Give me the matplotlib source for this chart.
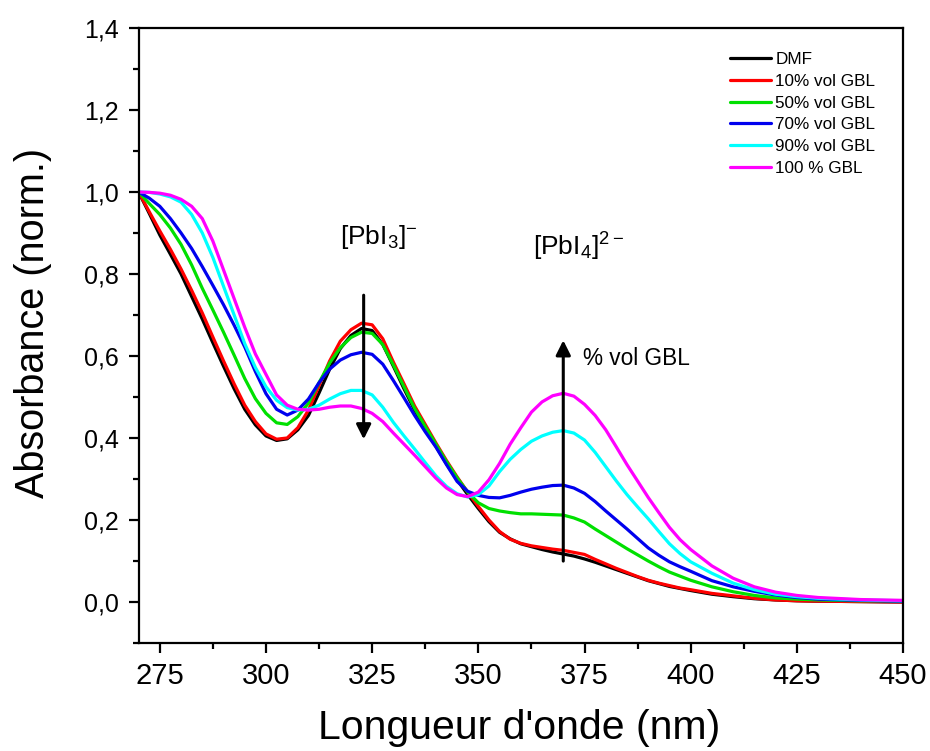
import matplotlib
matplotlib.use("Agg")
import matplotlib.pyplot as plt
from matplotlib.ticker import MultipleLocator, FuncFormatter

plt.rcParams['font.family'] = ['Liberation Sans', 'DejaVu Sans']
plt.rcParams['mathtext.fontset'] = 'custom'
plt.rcParams['mathtext.rm'] = 'Liberation Sans'
plt.rcParams['mathtext.it'] = 'Liberation Sans'

wavelength = [270, 272.5, 275, 277.5, 280, 282.5, 285, 287.5, 290, 292.5, 295, 297.5,
              300, 302.5, 305, 307.5, 310, 312.5, 315, 317.5, 320, 322.5, 325, 327.5,
              330, 332.5, 335, 337.5, 340, 342.5, 345, 347.5, 350, 352.5, 355, 357.5,
              360, 362.5, 365, 367.5, 370, 372.5, 375, 377.5, 380, 382.5, 385, 387.5,
              390, 392.5, 395, 397.5, 400, 405, 410, 415, 420, 425, 430, 440, 450]

dmf = [1.000, 0.948, 0.895, 0.848, 0.800, 0.745, 0.690, 0.632, 0.575, 0.520, 0.470, 0.432,
       0.405, 0.394, 0.398, 0.420, 0.455, 0.510, 0.568, 0.618, 0.650, 0.667, 0.662, 0.628,
       0.575, 0.520, 0.468, 0.422, 0.380, 0.337, 0.298, 0.262, 0.228, 0.196, 0.170, 0.154,
       0.142, 0.135, 0.128, 0.122, 0.117, 0.112, 0.105, 0.097, 0.088, 0.079, 0.070, 0.061,
       0.052, 0.045, 0.038, 0.033, 0.028, 0.019, 0.013, 0.008, 0.005, 0.003, 0.002, 0.001, 0.000]

gbl10 = [1.000, 0.952, 0.905, 0.860, 0.812, 0.760, 0.705, 0.646, 0.588, 0.532, 0.480, 0.440,
         0.410, 0.397, 0.400, 0.425, 0.468, 0.528, 0.588, 0.636, 0.664, 0.680, 0.676, 0.642,
         0.585, 0.532, 0.478, 0.433, 0.388, 0.345, 0.305, 0.268, 0.233, 0.200, 0.172, 0.153,
         0.143, 0.137, 0.133, 0.129, 0.126, 0.121, 0.116, 0.104, 0.093, 0.082, 0.072, 0.062,
         0.053, 0.046, 0.040, 0.034, 0.030, 0.021, 0.015, 0.009, 0.005, 0.003, 0.002, 0.001, 0.000]

gbl50 = [1.000, 0.972, 0.945, 0.912, 0.872, 0.822, 0.765, 0.712, 0.658, 0.602, 0.545, 0.496,
         0.460, 0.437, 0.433, 0.452, 0.485, 0.535, 0.583, 0.620, 0.645, 0.658, 0.655, 0.628,
         0.578, 0.525, 0.472, 0.428, 0.385, 0.342, 0.303, 0.268, 0.242, 0.228, 0.222, 0.218,
         0.215, 0.215, 0.214, 0.213, 0.212, 0.205, 0.195, 0.178, 0.162, 0.146, 0.130, 0.115,
         0.100, 0.086, 0.073, 0.063, 0.053, 0.037, 0.025, 0.016, 0.010, 0.007, 0.005, 0.003, 0.002]

gbl70 = [1.000, 0.985, 0.965, 0.935, 0.900, 0.862, 0.818, 0.772, 0.725, 0.675, 0.622, 0.562,
         0.508, 0.470, 0.456, 0.468, 0.495, 0.535, 0.568, 0.590, 0.603, 0.609, 0.604, 0.580,
         0.540, 0.498, 0.455, 0.415, 0.378, 0.335, 0.294, 0.270, 0.260, 0.255, 0.254, 0.260,
         0.268, 0.275, 0.280, 0.284, 0.285, 0.278, 0.265, 0.245, 0.222, 0.200, 0.178, 0.155,
         0.132, 0.114, 0.098, 0.086, 0.075, 0.052, 0.037, 0.026, 0.017, 0.011, 0.007, 0.004, 0.002]

gbl90 = [1.000, 0.999, 0.995, 0.988, 0.975, 0.945, 0.900, 0.840, 0.770, 0.700, 0.630, 0.572,
         0.525, 0.492, 0.474, 0.468, 0.470, 0.480, 0.495, 0.508, 0.516, 0.516, 0.505, 0.475,
         0.438, 0.405, 0.373, 0.340, 0.308, 0.282, 0.264, 0.256, 0.262, 0.283, 0.318, 0.348,
         0.372, 0.392, 0.405, 0.414, 0.418, 0.412, 0.395, 0.365, 0.330, 0.295, 0.262, 0.232,
         0.203, 0.172, 0.142, 0.118, 0.098, 0.070, 0.046, 0.030, 0.019, 0.013, 0.009, 0.005, 0.003]

gbl100 = [1.000, 0.999, 0.997, 0.992, 0.982, 0.965, 0.935, 0.880, 0.810, 0.740, 0.670, 0.605,
          0.555, 0.505, 0.480, 0.470, 0.468, 0.470, 0.475, 0.478, 0.478, 0.472, 0.460, 0.440,
          0.412, 0.385, 0.358, 0.330, 0.302, 0.278, 0.262, 0.257, 0.268, 0.298, 0.338, 0.385,
          0.425, 0.463, 0.488, 0.503, 0.509, 0.502, 0.482, 0.455, 0.420, 0.378, 0.335, 0.295,
          0.255, 0.218, 0.182, 0.152, 0.128, 0.088, 0.058, 0.037, 0.024, 0.016, 0.011, 0.006, 0.004]

series = [dmf, gbl10, gbl50, gbl70, gbl90, gbl100]
labels = ["DMF", "10% vol GBL", "50% vol GBL", "70% vol GBL", "90% vol GBL", "100 % GBL"]
colors = ["#000000", "#ff0000", "#00e000", "#0000ee", "#00ffff", "#ff00ff"]
x_ticks = [275, 300, 325, 350, 375, 400, 425, 450]

fig = plt.figure(figsize=(9.3, 7.51), dpi=100)
ax = fig.add_axes([0.149, 0.1438, 0.822, 0.819])

for ys, lab, c in zip(series, labels, colors):
    ax.plot(wavelength, ys, color=c, lw=2.3, label=lab,
            solid_joinstyle='round', solid_capstyle='round')

ax.set_xlim(270, 450)
ax.set_ylim(-0.1, 1.4)
ax.set_xticks(x_ticks)
ax.xaxis.set_minor_locator(MultipleLocator(12.5))
ax.yaxis.set_major_locator(MultipleLocator(0.2))
ax.yaxis.set_minor_locator(MultipleLocator(0.1))
ax.yaxis.set_major_formatter(FuncFormatter(lambda v, p: f"{v:.1f}".replace('.', ',').replace('-0,0', '0,0')))
ax.tick_params(which='major', direction='out', length=7.5, width=1.6,
               top=False, right=False)
ax.tick_params(which='minor', direction='out', length=4.5, width=1.6, top=False, right=False)
ax.tick_params(axis='x', which='major', labelsize=21, pad=6)
ax.tick_params(axis='y', which='major', labelsize=18, pad=7)
for s in ax.spines.values():
    s.set_linewidth(1.6)

ax.set_xlabel("Longueur d'onde (nm)", fontsize=29.5)
ax.set_ylabel("Absorbance (norm.)", fontsize=28.5)
ax.xaxis.set_label_coords(0.498, -0.107)
ax.yaxis.set_label_coords(-0.1136, 0.52)

# arrows
ax.annotate("", xy=(323, 0.39), xytext=(323, 0.755),
            arrowprops=dict(arrowstyle='-|>', color='black', lw=2.2, mutation_scale=22))
ax.annotate("", xy=(370, 0.645), xytext=(370, 0.093),
            arrowprops=dict(arrowstyle='-|>', color='black', lw=2.2, mutation_scale=22))

ax.text(374.6, 0.595, "% vol GBL", fontsize=16.3, ha='left', va='center')
ax.text(326.5, 0.89, r"[PbI$_{\mathregular{3}}$]$^{\mathregular{-}}$", fontsize=19, ha='center', va='center')
ax.text(373.5, 0.865, r"[PbI$_{\mathregular{4}}$]$^{\mathregular{2-}}$", fontsize=19, ha='center', va='center')

ax.legend(loc='upper left', bbox_to_anchor=(0.7736, 0.961), frameon=False,
          borderpad=0, borderaxespad=0,
          fontsize=12.3, handlelength=2.4, handletextpad=0.25, labelspacing=0.4)

fig.savefig("out.png", dpi=100)
